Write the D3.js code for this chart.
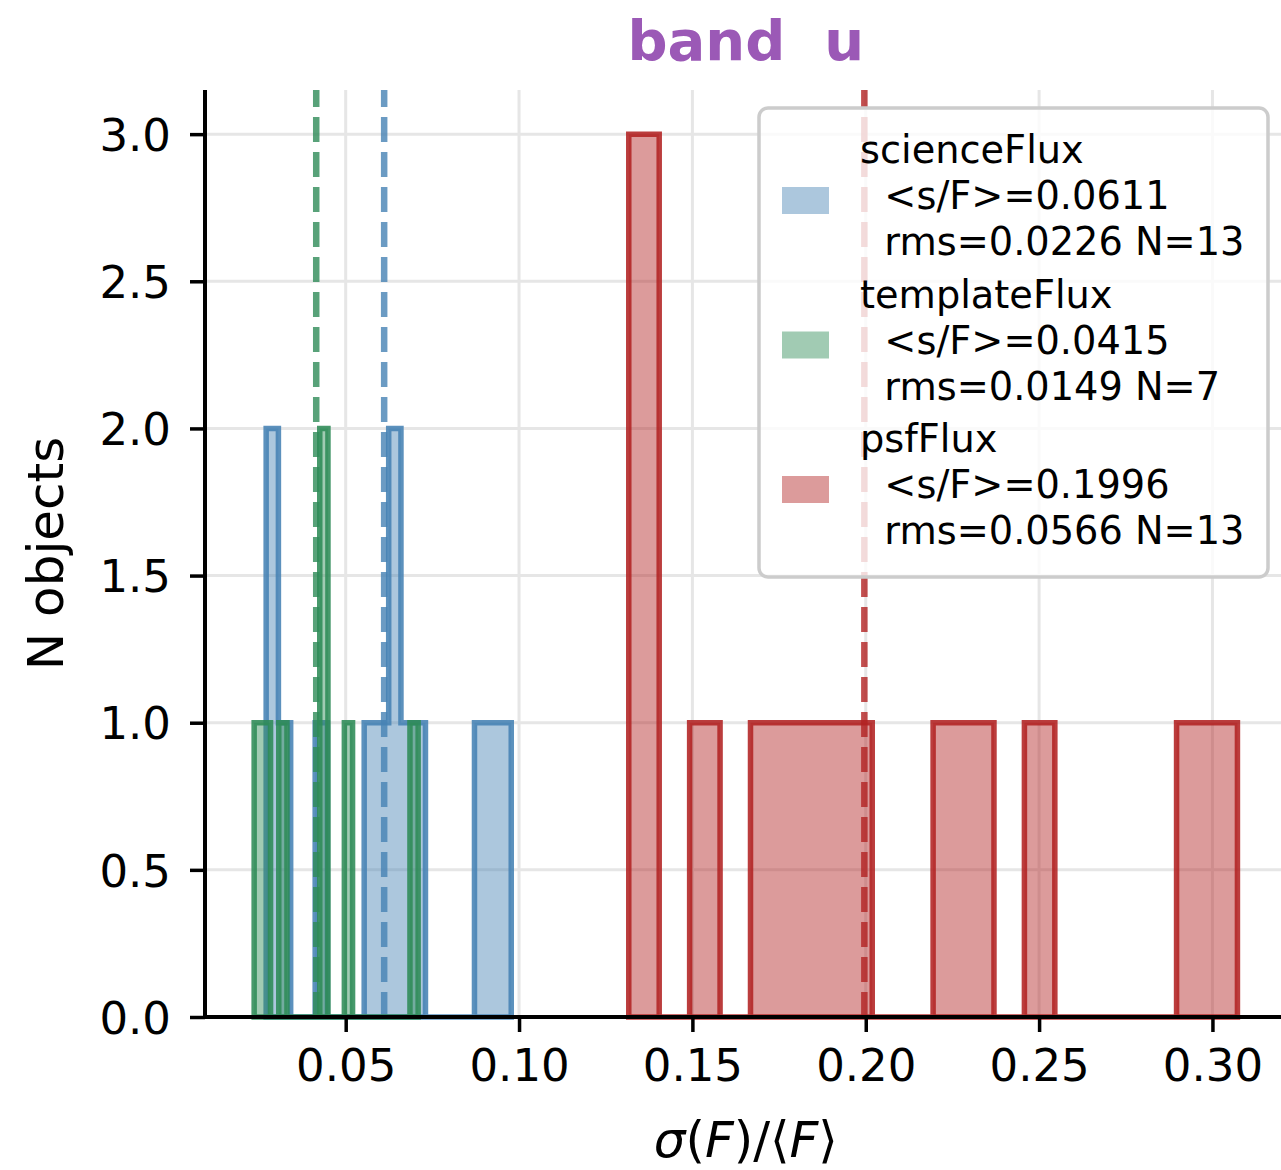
<!DOCTYPE html>
<html><head><meta charset="utf-8">
<script src="https://cdn.jsdelivr.net/npm/d3@7"></script>
<style>body{margin:0;background:#fff}svg{display:block;font-family:"DejaVu Sans",sans-serif}</style>
</head><body>
<svg id="c" width="1281" height="1170"></svg>
<script>
// ---- data ----
const seriesNames = ["scienceFlux", "templateFlux", "psfFlux"];
const scienceRange = [0.02706, 0.09775];
const scienceCounts = [2,1,0,0,1,0,0,0,1,1,2,1,1,0,0,0,0,1,1,1];
const templateRange = [0.0236, 0.0709];
const templateCounts = [1,1,0,1,0,0,0,0,2,0,0,1,0,0,0,0,0,0,0,1];
const psfRange = [0.13165, 0.30721];
const psfCounts = [3,0,1,0,1,1,1,1,0,0,1,1,0,1,0,0,0,0,1,1];
const meanValues = [0.0611, 0.0415, 0.1996];
const rmsValues = [0.0226, 0.0149, 0.0566];
const nValues = [13, 7, 13];
const xTicks = [0.05, 0.10, 0.15, 0.20, 0.25, 0.30];
const yTicks = [0, 0.5, 1.0, 1.5, 2.0, 2.5, 3.0];
const titleText = "band  u";

(function () {
const ranges = [scienceRange, templateRange, psfRange];
const counts = [scienceCounts, templateCounts, psfCounts];
const colors = ["#4682b4", "#2e8b57", "#b22222"];

// ---- layout ----
const pL = 205, pT = 90, pB = 1017, pR = 1286.6;
const svg = d3.select("#c");

const lo = d3.min(ranges, r => r[0]), hi = d3.max(ranges, r => r[1]);
const pad = 0.05 * (hi - lo);
const x = d3.scaleLinear().domain([lo - pad, hi + pad]).range([pL, pR]);
const ymax = d3.max(counts, c => d3.max(c)) * 1.05;
const y = d3.scaleLinear().domain([0, ymax]).range([pB, pT]);

// grid
const grid = svg.append("g");
grid.selectAll("line.gx").data(xTicks).join("line").attr("class", "gx")
  .attr("x1", d => x(d)).attr("x2", d => x(d)).attr("y1", pT).attr("y2", pB)
  .attr("stroke", "#e6e6e6").attr("stroke-width", 3);
grid.selectAll("line.gy").data(yTicks).join("line").attr("class", "gy")
  .attr("x1", pL).attr("x2", pR).attr("y1", d => y(d)).attr("y2", d => y(d))
  .attr("stroke", "#e6e6e6").attr("stroke-width", 3);

// histograms + mean lines
const plot = svg.append("g");
const line = d3.line().x(d => x(d[0])).y(d => y(d[1]));
counts.forEach((c, i) => {
  const [a, b] = ranges[i];
  const w = (b - a) / c.length;
  const pts = [[a, 0]];
  c.forEach((v, k) => { pts.push([a + k * w, v]); pts.push([a + (k + 1) * w, v]); });
  pts.push([b, 0]);
  plot.append("path").attr("d", line(pts) + "Z")
    .attr("fill", colors[i]).attr("fill-opacity", 0.45)
    .attr("stroke", colors[i]).attr("stroke-opacity", 0.88)
    .attr("stroke-width", 5.5).attr("stroke-linejoin", "miter");
  plot.append("line")
    .attr("x1", x(meanValues[i])).attr("x2", x(meanValues[i]))
    .attr("y1", pB).attr("y2", pT)
    .attr("stroke", colors[i]).attr("stroke-opacity", 0.8)
    .attr("stroke-width", 6.5).attr("stroke-dasharray", "25 10");
});

// axes
const xAxis = svg.append("g").attr("transform", `translate(0,${pB})`)
  .call(d3.axisBottom(x).tickValues(xTicks).tickFormat(d3.format(".2f")).tickSize(15).tickPadding(17));
const yAxis = svg.append("g").attr("transform", `translate(${pL},0)`)
  .call(d3.axisLeft(y).tickValues(yTicks).tickFormat(d3.format(".1f")).tickSize(15).tickPadding(19));
[xAxis, yAxis].forEach(g => {
  g.select(".domain").attr("stroke", "#000").attr("stroke-width", 4);
  g.selectAll(".tick line").attr("stroke", "#000").attr("stroke-width", 3.5);
  g.selectAll(".tick text").attr("fill", "#000").attr("font-size", 45)
    .attr("font-family", "DejaVu Sans");
});
xAxis.select(".domain").attr("d", `M${pL},0H${pR}`);
yAxis.select(".domain").attr("d", `M0,${pT}V${pB}`);
xAxis.selectAll(".tick text").attr("dy", "0.71em");
yAxis.selectAll(".tick text").attr("dy", "0.36em");

// labels
svg.append("text").attr("transform", `translate(63,${(pT + pB) / 2}) rotate(-90)`)
  .attr("text-anchor", "middle").attr("font-size", 50).attr("fill", "#000").text("N objects");

const xl = svg.append("text").attr("x", (pL + pR) / 2).attr("y", 1157)
  .attr("text-anchor", "middle").attr("font-size", 50).attr("fill", "#000");
[["σ", true], ["(", false], ["F", true], [")/⟨", false], ["F", true], ["⟩", false]]
  .forEach(([t, it]) => xl.append("tspan").attr("font-style", it ? "italic" : "normal").text(t));

svg.append("text").attr("x", (pL + pR) / 2).attr("y", 60)
  .attr("text-anchor", "middle").attr("font-size", 56).attr("font-weight", "bold")
  .attr("fill", "#9b59b6").style("white-space", "pre").text(titleText);

// legend
const lg = svg.append("g");
lg.append("rect").attr("x", 759).attr("y", 108).attr("width", 509).attr("height", 469)
  .attr("rx", 9).attr("fill", "#fff").attr("fill-opacity", 0.8)
  .attr("stroke", "#cccccc").attr("stroke-width", 3.5);
seriesNames.forEach((name, i) => {
  const b0 = 163 + i * 144.5;
  const lines = [name, "  <s/F>=" + meanValues[i].toFixed(4),
                 "  rms=" + rmsValues[i].toFixed(4) + " N=" + nValues[i]];
  const t = lg.append("text").attr("font-size", 38.3).attr("fill", "#000").style("white-space", "pre");
  lines.forEach((s, k) => t.append("tspan").attr("x", 860).attr("y", b0 + k * 46).text(s));
  lg.append("rect").attr("x", 782).attr("y", b0 + 46 - 22).attr("width", 47).attr("height", 27)
    .attr("fill", colors[i]).attr("fill-opacity", 0.45);
});
})();
</script>
</body></html>
